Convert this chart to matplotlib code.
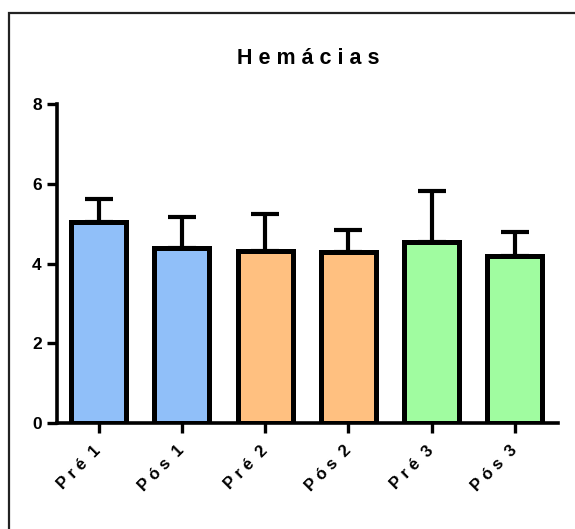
import matplotlib
matplotlib.use("Agg")
import matplotlib.pyplot as plt
from matplotlib.patches import Rectangle

categories = ["P r é  1", "P ó s  1", "P r é  2", "P ó s  2", "P r é  3", "P ó s  3"]
means = [5.04, 4.38, 4.31, 4.28, 4.53, 4.19]
sd_upper = [0.59, 0.79, 0.92, 0.57, 1.28, 0.59]
colors = ["#90BFF9", "#90BFF9", "#FFC080", "#FFC080", "#A0FCA0", "#A0FCA0"]
yticks = [0, 2, 4, 6, 8]
title = "H e m á c i a s"

plt.rcParams['font.family'] = ['Liberation Sans', 'DejaVu Sans']

W, H = 575, 529
fig = plt.figure(figsize=(W/100, H/100), dpi=100)
ax = fig.add_axes([57/W, 1-423/H, (558-57)/W, (423-104)/H])

x = list(range(len(categories)))
ax.errorbar(x, means, yerr=[[0]*len(means), sd_upper], fmt='none',
            ecolor='black', elinewidth=3.0, capsize=10, capthick=3.0, zorder=2)
ax.bar(x, means, width=0.66, color=colors, edgecolor='black', linewidth=3.6, zorder=3)

ax.set_xlim(-0.5, 5.52)
ax.set_ylim(0, 8)
ax.set_yticks(yticks)
ax.set_yticklabels([str(v) for v in yticks], fontsize=12.5, fontweight='bold')
ax.set_xticks(x)
ax.set_xticklabels(categories, rotation=45, ha='right', va='center',
                   rotation_mode='anchor', fontsize=12, fontweight='bold')
ax.tick_params(axis='both', width=2.4, length=7, color='black')
ax.tick_params(axis='x', pad=11)
ax.tick_params(axis='y', pad=4)
for s in ['top', 'right']:
    ax.spines[s].set_visible(False)
for s in ['left', 'bottom']:
    ax.spines[s].set_linewidth(2.6)

fig.text(308/W, 1-58/H, title, ha='center', va='center', fontsize=15.5, fontweight='bold')

fig.patches.append(Rectangle((9/W, -0.1), 1.2, 1-13/H+0.1, transform=fig.transFigure,
                             fill=False, edgecolor='#222222', linewidth=1.6, clip_on=False))

fig.savefig("out.png", dpi=100)
